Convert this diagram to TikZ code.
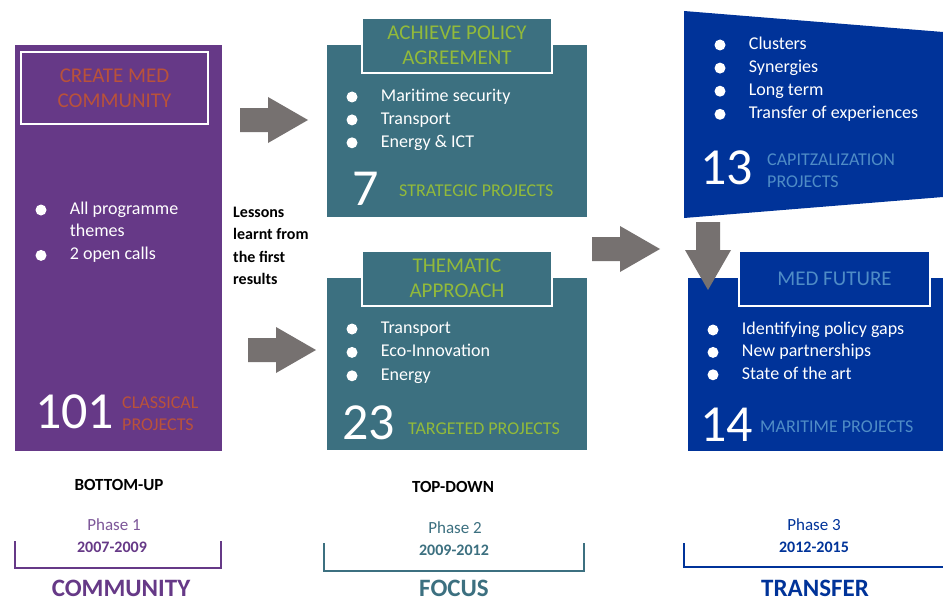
\documentclass[tikz,border=0pt]{standalone}
\usepackage{fontspec}
\setmainfont{Carlito}
\usepackage{tikz}
\usetikzlibrary{positioning}

\definecolor{medpurple}{RGB}{102,57,135}
\definecolor{medteal}{RGB}{60,112,128}
\definecolor{medblue}{RGB}{0,51,153}
\definecolor{medorange}{RGB}{185,82,58}
\definecolor{medgreen}{RGB}{146,186,58}
\definecolor{medlight}{RGB}{79,140,198}
\definecolor{arrowgray}{RGB}{118,113,112}

\begin{document}
\begin{tikzpicture}
    [ x = 1pt, y = -1pt
    , panel/.style =
      { anchor=north west, inner sep=0pt }
    , titlebox/.style =
      { draw=white, line width=2pt, inner sep=0pt, align=center
      , minimum width=190pt, minimum height=55pt
      , font=\fontsize{21}{25}\selectfont }
    , dot/.style =
      { circle, fill=white, inner sep=0pt, minimum size=11pt }
    , item/.style =
      { text=white, inner sep=0pt, text height=13pt, text depth=4pt
      , font=\fontsize{18}{22}\selectfont }
    , bignum/.style =
      { text=white, inner sep=0pt, anchor=west
      , font=\fontsize{52}{52}\selectfont }
    , projects/.style =
      { inner sep=0pt, anchor=west, align=left
      , font=\fontsize{18}{22}\selectfont }
    , lessons/.style =
      { inner sep=0pt, anchor=west, align=left
      , font=\bfseries\fontsize{16}{22.3}\selectfont }
    , phase/.style =
      { inner sep=0pt, font=\fontsize{17}{20}\selectfont }
    , years/.style =
      { inner sep=0pt, font=\bfseries\fontsize{16}{19}\selectfont }
    , stage/.style =
      { inner sep=0pt, font=\bfseries\fontsize{25}{28}\selectfont }
    , approach/.style =
      { inner sep=0pt, font=\bfseries\fontsize{17}{19}\selectfont }
    , phasebracket/.style =
      { line width=2pt }
    , rarrow/.pic =
      { \fill [arrowgray] (0,-12) -- (28,-12) -- (28,-23) -- (68,0)
          -- (28,23) -- (28,12) -- (0,12) -- cycle; }
    ]
    \path [use as bounding box, fill=white] (0,0) rectangle (943,602);

    % phase 1: community
    \node [panel, fill=medpurple, minimum width=207pt, minimum height=406pt] (community) at (15,45) {};
    \node [titlebox, minimum width=187pt, minimum height=72pt, text=medorange] (createmed) at (114.5,88) {CREATE MED\\COMMUNITY};
    \node [dot] (c1) at (41,210) {};
    \node [dot] (c2) [below=34pt of c1] {};
    \node [item, right=23pt of c1] (c1t) {All programme};
    \node [item, below right=5pt and 0pt of c1t.south west] (c1u) {themes};
    \node [item, right=23pt of c2] (c2t) {2 open calls};
    \node [bignum] (n101) at (35,412) {101};
    \node [projects, text=medorange] (classical) at (122,414) {CLASSICAL\\PROJECTS};

    % phase 2: strategic
    \node [panel, fill=medteal, minimum width=260pt, minimum height=172pt] (strategic) at (327,45) {};
    \node [titlebox, fill=medteal, text=medgreen] (policy) at (457,45.5) {ACHIEVE POLICY\\AGREEMENT};
    \node [dot] (s1) at (352,97) {};
    \node [dot] (s2) [below=11.5pt of s1] {};
    \node [dot] (s3) [below=11.5pt of s2] {};
    \node [item, right=23pt of s1] (s1t) {Maritime security};
    \node [item, right=23pt of s2] (s2t) {Transport};
    \node [item, right=23pt of s3] (s3t) {Energy \& ICT};
    \node [bignum] (n7) at (352,189) {7};
    \node [projects, text=medgreen] (strat) at (399,191) {STRATEGIC PROJECTS};

    % phase 2: targeted
    \node [panel, fill=medteal, minimum width=260pt, minimum height=172pt] (targeted) at (327,278) {};
    \node [titlebox, fill=medteal, text=medgreen] (thematic) at (457,278.5) {THEMATIC\\APPROACH};
    \node [dot] (t1) at (352,329) {};
    \node [dot] (t2) [below=12pt of t1] {};
    \node [dot] (t3) [below=12pt of t2] {};
    \node [item, right=23pt of t1] (t1t) {Transport};
    \node [item, right=23pt of t2] (t2t) {Eco-Innovation};
    \node [item, right=23pt of t3] (t3t) {Energy};
    \node [bignum] (n23) at (342,423) {23};
    \node [projects, text=medgreen] (targ) at (408,429) {TARGETED PROJECTS};

    % phase 3: capitalization
    \fill [medblue] (684,11) -- (943,32) -- (943,197) -- (684,218) -- cycle;
    \node [dot] (k1) at (720,45) {};
    \node [dot] (k2) [below=11.7pt of k1] {};
    \node [dot] (k3) [below=11.7pt of k2] {};
    \node [dot] (k4) [below=11.7pt of k3] {};
    \node [item, right=23pt of k1] (k1t) {Clusters};
    \node [item, right=23pt of k2] (k2t) {Synergies};
    \node [item, right=23pt of k3] (k3t) {Long term};
    \node [item, right=23pt of k4] (k4t) {Transfer of experiences};
    \node [bignum] (n13) at (700,168) {13};
    \node [projects, text=medlight] (capit) at (767,171) {CAPITZALIZATION\\PROJECTS};

    % phase 3: maritime
    \node [panel, fill=medblue, minimum width=257pt, minimum height=173pt] (maritime) at (688,278) {};
    \node [titlebox, fill=medblue, minimum width=191pt, text=medlight] (medfuture) at (834.5,278.5) {MED FUTURE};
    \node [dot] (m1) at (713,330) {};
    \node [dot] (m2) [below=11pt of m1] {};
    \node [dot] (m3) [below=11pt of m2] {};
    \node [item, right=23pt of m1] (m1t) {Identifying policy gaps};
    \node [item, right=23pt of m2] (m2t) {New partnerships};
    \node [item, right=23pt of m3] (m3t) {State of the art};
    \node [bignum] (n14) at (700,425) {14};
    \node [projects, text=medlight] (marit) at (760,427) {MARITIME PROJECTS};

    % block arrows
    \pic at (240,120) {rarrow};
    \pic at (248,350) {rarrow};
    \pic at (592,249) {rarrow};
    \pic [rotate=-90] at (708,222) {rarrow};

    \node [lessons] (lessons) at (233,246) {Lessons\\learnt from\\the first\\results};

    % phases below
    \node [approach] (bottomup) at (119,485) {BOTTOM-UP};
    \node [approach] (topdown) at (453,487) {TOP-DOWN};

    \node [phase, text=medpurple!85!white] (phase1) at (114,525) {Phase 1};
    \node [years, text=medpurple] (years1) at (112,547) {2007-2009};
    \draw [phasebracket, medpurple] (15,541) |- (221,568) -- (221,541);
    \node [stage, text=medpurple] (stage1) at (121,588) {COMMUNITY};

    \node [phase, text=medteal] (phase2) at (455,528) {Phase 2};
    \node [years, text=medteal] (years2) at (454,550) {2009-2012};
    \draw [phasebracket, medteal] (324,543) |- (584,571) -- (584,543);
    \node [stage, text=medteal] (stage2) at (454,588) {FOCUS};

    \node [phase, text=medblue] (phase3) at (814,525) {Phase 3};
    \node [years, text=medblue] (years3) at (814,547) {2012-2015};
    \draw [phasebracket, medblue] (684,543) |- (945,567);
    \node [stage, text=medblue] (stage3) at (815,588) {TRANSFER};
\end{tikzpicture}
\end{document}
